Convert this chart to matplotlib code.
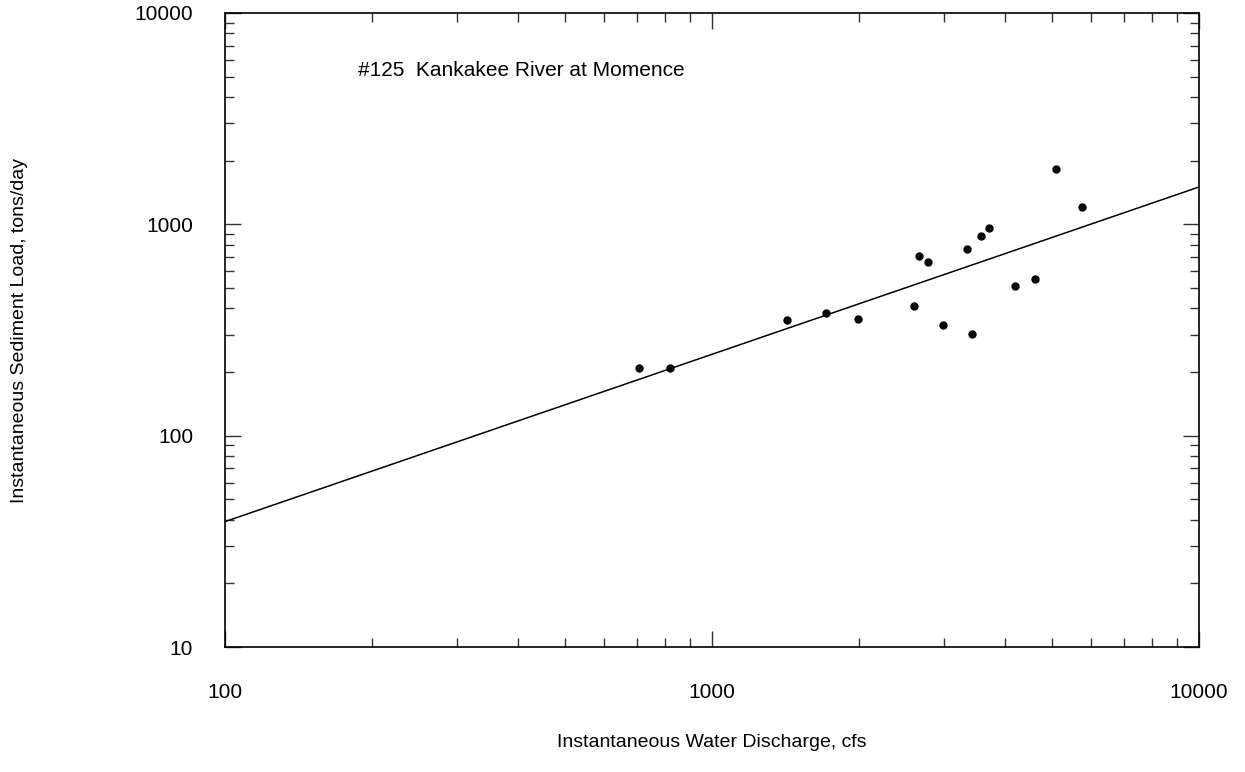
import numpy as np
import matplotlib
matplotlib.use('Agg')
import matplotlib.pyplot as plt
from matplotlib.ticker import LogLocator, FixedLocator, NullFormatter

plt.rcParams['font.family'] = ['Liberation Sans', 'DejaVu Sans']

# observed samples (water discharge cfs, sediment load tons/day)
discharge = [707, 820, 1423, 1714, 1997, 2603, 2657, 2773, 2977, 3339,
             3423, 3562, 3700, 4183, 4613, 5086, 5751]
sediment = [208, 208, 354, 380, 356, 409, 711, 661, 334, 764,
            302, 878, 960, 512, 551, 1827, 1204]

# rating curve end points
curve_q = [100, 10000]
curve_s = [39.2, 1502]

title = '#125  Kankakee River at Momence'

fig = plt.figure(figsize=(12.45, 7.72), dpi=100)
ax = fig.add_axes([0.1807, 0.1619, 0.7824, 0.8213])

ax.plot(curve_q, curve_s, color='black', lw=1.1)
ax.plot(discharge, sediment, 'o', color='black', ms=5)

ax.set_xscale('log')
ax.set_yscale('log')
ax.set_xlim(100, 10000)
ax.set_ylim(10, 10000)

ax.xaxis.set_major_locator(FixedLocator([100, 1000, 10000]))
ax.yaxis.set_major_locator(FixedLocator([10, 100, 1000, 10000]))
ax.set_xticklabels(['100', '1000', '10000'])
ax.set_yticklabels(['10', '100', '1000', '10000'])
for a in (ax.xaxis, ax.yaxis):
    a.set_minor_locator(LogLocator(base=10, subs=np.arange(2, 10)))
    a.set_minor_formatter(NullFormatter())

ax.tick_params(which='both', direction='in', top=True, right=True,
               width=1, color='#333333')
ax.tick_params(which='major', length=11.5, labelsize=15)
ax.tick_params(axis='x', which='major', pad=26)
ax.tick_params(axis='y', which='major', pad=23)
ax.tick_params(which='minor', length=6.5)
for s in ax.spines.values():
    s.set_linewidth(1.2)

ax.text(0.137, 0.91, title, transform=ax.transAxes, fontsize=15,
        va='center', ha='left')

ax.set_xlabel('Instantaneous Water Discharge, cfs', fontsize=14, labelpad=23)
fig.text(0.0155, 0.572, 'Instantaneous Sediment Load, tons/day', fontsize=14,
         rotation=90, va='center', ha='center')

fig.savefig('out.png', dpi=100)
